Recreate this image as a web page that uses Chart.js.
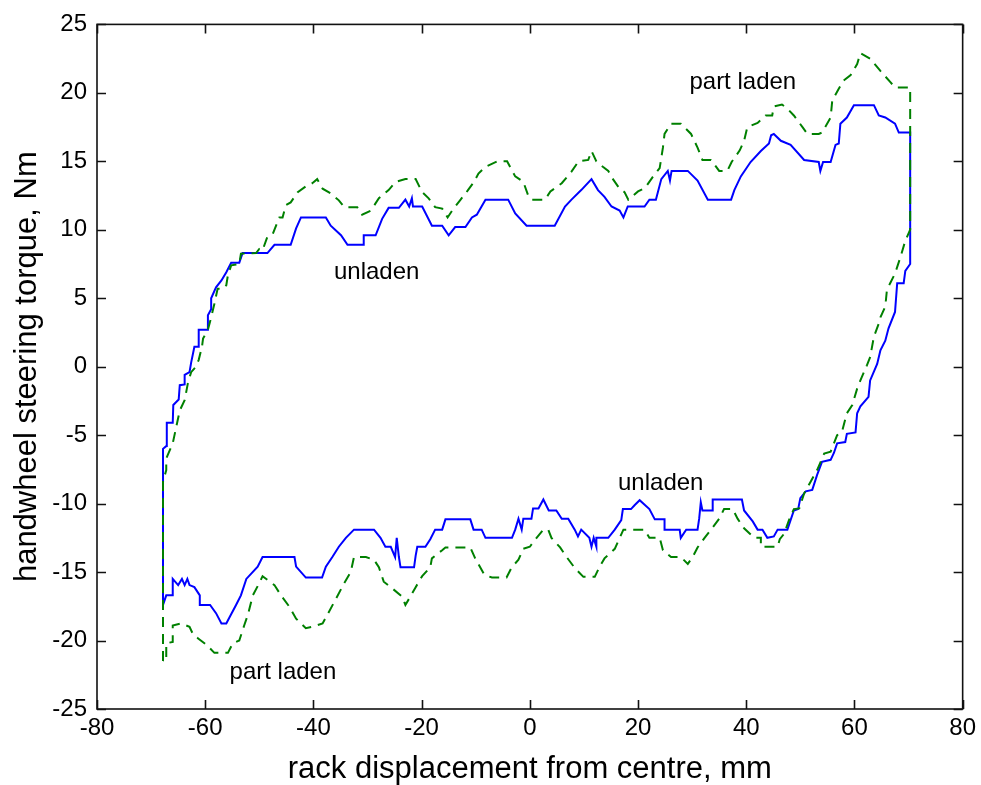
<!DOCTYPE html>
<html>
<head>
<meta charset="utf-8">
<script src="https://cdn.jsdelivr.net/npm/chart.js@4/dist/chart.umd.min.js"></script>
<style>
  html, body { margin: 0; padding: 0; background: #fff; }
  canvas { display: block; }
</style>
</head>
<body>
<canvas id="myChart" width="981" height="785"></canvas>
<script>
// rack displacement (mm) vs handwheel torque (Nm)
const unladen = [
  [-67.8,-17.4],[-67.8,-6.0],[-67.2,-5.8],[-67.1,-4.1],[-66.0,-4.1],[-65.9,-2.8],[-64.9,-2.4],[-64.7,-1.35],
  [-63.8,-1.3],[-63.8,-0.6],[-62.9,-0.4],[-62.6,0.3],[-62.0,1.45],[-61.2,1.45],[-61.2,2.7],[-59.6,2.7],
  [-59.5,3.75],[-58.9,4.2],[-58.9,5.0],[-58.0,5.8],[-57.0,6.3],[-56.1,6.9],[-55.2,7.6],[-53.7,7.6],
  [-53.1,8.3],[-48.5,8.3],[-47.2,8.9],[-44.2,8.9],[-43.2,10.1],[-42.3,10.9],[-37.7,10.9],[-36.8,10.3],
  [-34.9,9.6],[-33.7,8.9],[-30.7,8.9],[-30.7,9.6],[-28.5,9.6],[-27.3,10.8],[-26.1,11.6],[-24.2,11.6],
  [-23.0,12.2],[-22.3,11.7],[-21.8,12.3],[-21.6,11.7],[-19.9,11.7],[-18.1,10.3],[-16.2,10.3],[-15.0,9.6],
  [-13.8,10.2],[-11.9,10.2],[-10.7,10.9],[-9.8,11.1],[-8.2,12.2],[-4.0,12.2],[-2.7,11.2],[-0.6,10.3],
  [4.6,10.3],[6.5,11.7],[7.7,12.2],[9.5,12.9],[11.4,13.7],[12.6,12.9],[13.8,12.4],[15.1,11.7],
  [16.6,11.4],[17.3,10.9],[18.1,11.7],[21.2,11.7],[22.1,12.2],[23.3,12.2],[24.3,13.7],[25.5,14.3],
  [25.9,13.6],[26.2,14.3],[29.2,14.3],[31.0,13.6],[32.9,12.2],[37.2,12.2],[37.8,12.9],[39.0,13.9],
  [40.8,14.95],[42.7,15.75],[44.2,16.3],[44.6,16.9],[45.1,17.0],[46.4,16.5],[48.2,16.2],[50.7,15.1],
  [53.4,14.95],[53.7,14.3],[54.2,14.95],[55.6,14.95],[56.5,16.2],[57.1,16.3],[57.4,17.75],[58.6,18.2],
  [59.9,19.1],[63.6,19.1],[64.5,18.35],[65.7,18.2],[67.5,17.75],[68.2,17.1],[70.3,17.1],
  [70.3,7.5],[69.4,7.0],[69.1,6.1],[67.9,6.1],[67.5,4.0],[66.3,2.8],[65.7,1.9],[64.8,1.2],
  [64.2,0.2],[62.9,-1.0],[62.6,-2.2],[61.1,-2.9],[60.5,-3.4],[60.2,-4.8],[58.6,-4.9],[58.3,-5.5],
  [56.8,-5.6],[56.2,-6.3],[55.6,-6.8],[54.0,-6.95],[53.1,-7.9],[52.2,-9.0],[51.0,-9.1],[50.0,-9.6],
  [49.6,-10.4],[48.8,-10.5],[47.6,-11.9],[45.8,-11.9],[45.1,-12.4],[43.9,-12.5],[43.0,-11.9],[42.1,-11.9],
  [41.2,-11.3],[39.6,-10.5],[39.2,-9.7],[33.8,-9.7],[33.8,-10.5],[31.9,-10.5],[31.6,-9.9],[31.3,-11.1],
  [31.0,-11.9],[28.9,-11.9],[27.9,-12.5],[27.7,-11.9],[24.9,-11.9],[24.9,-11.15],[23.1,-11.15],[22.1,-10.4],
  [20.3,-9.75],[19.4,-10.1],[18.7,-10.4],[17.2,-10.4],[16.9,-11.2],[15.7,-11.9],[14.5,-12.5],[12.3,-12.5],
  [12.3,-13.15],[11.8,-12.5],[11.4,-13.15],[11.0,-12.5],[9.5,-11.9],[8.9,-12.4],[8.3,-11.9],[7.1,-11.1],
  [5.9,-11.1],[4.9,-10.5],[3.5,-10.5],[2.5,-9.7],[1.6,-10.35],[0.6,-10.35],[0.3,-11.1],[-1.2,-11.1],
  [-1.5,-11.9],[-2.1,-11.1],[-2.7,-11.9],[-3.3,-12.5],[-8.2,-12.5],[-8.9,-11.9],[-10.4,-11.9],[-11.0,-11.15],
  [-15.6,-11.15],[-16.2,-11.9],[-17.5,-11.9],[-18.4,-12.6],[-19.3,-13.15],[-20.8,-13.15],[-21.1,-13.8],[-21.4,-14.65],
  [-23.9,-14.65],[-24.2,-13.9],[-24.6,-12.5],[-24.9,-13.9],[-25.7,-13.15],[-26.7,-13.15],[-27.6,-12.5],[-28.8,-11.9],
  [-32.5,-11.9],[-34.0,-12.5],[-35.3,-13.15],[-36.5,-13.9],[-37.7,-14.6],[-38.4,-15.4],[-41.4,-15.4],[-43.2,-14.6],
  [-43.5,-13.9],[-49.4,-13.9],[-50.3,-14.6],[-52.4,-15.5],[-53.4,-16.7],[-54.3,-17.4],[-55.5,-18.3],[-56.1,-18.75],
  [-57.0,-18.75],[-58.0,-18.0],[-59.1,-17.4],[-61.0,-17.4],[-61.0,-16.7],[-62.0,-16.1],[-62.9,-15.95],[-63.3,-15.5],
  [-63.8,-15.95],[-64.3,-15.5],[-65.0,-15.95],[-66.0,-15.5],[-66.0,-16.7],[-67.2,-16.7],[-67.8,-17.4]
]

const partLaden = [
  [-67.8,-21.5],[-67.8,-8.4],[-67.2,-7.55],[-67.2,-6.7],[-66.0,-5.6],[-65.3,-4.3],[-64.7,-3.2],[-63.8,-2.45],
  [-63.2,-1.2],[-62.6,-0.4],[-61.7,0.0],[-61.2,0.5],[-60.6,1.45],[-60.4,2.05],[-59.5,2.7],[-58.9,3.6],
  [-58.3,4.6],[-57.7,5.7],[-56.7,5.7],[-56.1,5.95],[-55.8,6.7],[-55.2,7.4],[-53.7,7.5],[-53.4,8.25],
  [-50.6,8.3],[-50.0,8.6],[-49.4,8.5],[-48.5,9.5],[-47.5,9.7],[-46.3,10.9],[-45.7,10.9],[-45.1,11.8],
  [-44.2,12.0],[-42.9,12.75],[-41.1,13.25],[-40.2,13.4],[-39.3,13.7],[-38.3,13.0],[-36.8,12.65],[-35.3,12.15],
  [-34.3,11.65],[-31.9,11.65],[-31.0,11.1],[-29.4,11.4],[-27.9,12.3],[-26.1,12.9],[-24.8,13.5],[-23.0,13.7],
  [-21.1,13.7],[-19.9,12.75],[-18.7,12.3],[-17.5,11.65],[-16.2,11.55],[-15.2,10.9],[-14.2,11.5],[-12.9,12.15],
  [-11.6,12.8],[-10.4,13.45],[-9.5,14.1],[-8.2,14.6],[-6.0,15.0],[-4.2,15.0],[-2.7,13.9],[-1.2,13.5],
  [-0.3,12.5],[0.3,12.2],[2.8,12.2],[3.8,12.8],[5.9,13.4],[7.7,14.25],[9.0,15.0],[10.8,15.1],
  [11.4,15.75],[12.3,15.0],[13.5,14.6],[14.5,14.3],[15.1,13.85],[16.6,13.0],[17.5,12.75],[18.2,12.2],
  [20.0,12.8],[21.3,13.05],[22.7,13.85],[24.0,14.5],[24.6,16.0],[24.9,17.0],[26.1,17.75],[27.9,17.75],
  [29.8,17.0],[30.4,16.5],[31.0,16.0],[31.9,15.1],[33.5,15.1],[35.0,14.3],[36.5,14.3],[37.3,14.95],
  [38.8,15.8],[39.6,16.5],[40.2,17.5],[42.1,17.8],[43.6,18.35],[44.8,18.35],[45.1,19.0],[46.6,19.15],
  [47.6,18.85],[48.8,18.35],[50.4,17.5],[51.3,17.0],[53.4,17.0],[54.0,17.1],[55.6,18.2],[55.9,19.45],
  [57.1,20.3],[58.0,20.9],[59.3,21.3],[60.5,22.1],[61.1,22.9],[62.9,22.5],[64.8,21.6],[66.6,20.8],
  [67.5,20.4],[70.3,20.4],
  [70.3,10.0],[69.4,9.2],[68.5,8.0],[67.5,6.8],[66.6,6.1],[66.0,5.6],[65.7,4.4],[64.8,3.6],
  [64.5,3.15],[63.6,2.2],[62.9,0.7],[62.3,0.1],[61.1,-1.0],[60.5,-1.6],[59.6,-2.8],[58.6,-3.4],
  [57.7,-4.75],[56.8,-5.0],[55.6,-6.2],[54.4,-6.35],[53.1,-7.55],[51.9,-8.4],[50.7,-9.25],[49.8,-10.35],
  [48.8,-10.4],[47.9,-11.2],[47.0,-12.2],[46.2,-12.6],[45.8,-13.15],[42.7,-13.15],[42.7,-12.5],[41.5,-12.5],
  [39.6,-11.8],[38.4,-11.1],[37.5,-10.4],[35.9,-10.4],[35.0,-11.1],[33.5,-11.9],[32.3,-12.5],[31.0,-13.2],
  [30.1,-13.9],[29.2,-14.4],[27.9,-13.9],[26.1,-13.9],[24.6,-13.4],[24.0,-12.5],[22.1,-12.5],[21.2,-11.9],
  [17.3,-11.9],[15.7,-13.3],[13.8,-14.0],[12.9,-14.6],[12.0,-15.35],[9.9,-15.35],[8.3,-14.7],[6.8,-13.9],
  [5.6,-13.2],[4.0,-12.5],[3.4,-11.9],[2.5,-11.9],[1.25,-12.5],[0.0,-13.15],[-1.2,-13.3],[-2.1,-14.1],
  [-3.35,-14.65],[-4.3,-15.4],[-7.0,-15.4],[-8.4,-15.2],[-10.1,-14.0],[-11.0,-13.2],[-15.6,-13.2],[-16.2,-13.4],
  [-18.1,-14.0],[-18.4,-14.65],[-19.9,-15.3],[-21.1,-16.1],[-22.1,-16.8],[-23.0,-17.4],[-23.6,-16.8],[-25.4,-16.2],
  [-27.0,-15.7],[-27.9,-14.65],[-28.8,-14.1],[-30.3,-13.9],[-32.5,-13.9],[-33.1,-15.0],[-34.3,-15.8],[-35.9,-17.0],
  [-37.4,-18.1],[-38.3,-18.75],[-40.2,-19.0],[-41.4,-19.1],[-43.2,-18.4],[-44.5,-17.5],[-46.0,-16.7],[-47.2,-15.95],
  [-49.4,-15.3],[-50.0,-15.8],[-51.2,-16.7],[-52.1,-18.1],[-52.8,-18.9],[-53.7,-20.0],[-54.9,-20.2],[-55.8,-20.9],
  [-58.3,-20.9],[-59.8,-20.3],[-61.3,-19.85],[-62.3,-19.5],[-62.9,-19.0],[-64.4,-18.75],[-66.0,-18.9],[-66.0,-20.1],
  [-67.2,-20.2],[-67.2,-21.5],[-67.8,-21.5]
]

// text labels placed in data units (left edge, baseline)
const labelText = ['part laden', 'unladen', 'unladen', 'part laden']
const labelX = [29.5, -36.2, 16.3, -55.5]
const labelY = [20.3, 6.4, -9.0, -22.8]

const xTicks = [-80, -60, -40, -20, 0, 20, 40, 60, 80]
const yTicks = [-25, -20, -15, -10, -5, 0, 5, 10, 15, 20, 25]

const FONT = '"Liberation Sans", Arial, Helvetica, sans-serif'
Chart.defaults.font.family = FONT
Chart.defaults.color = '#000'

const toPoints = arr => arr.map(p => ({ x: p[0], y: p[1] }))

// matlab style box with inward ticks + the curve labels
const boxPlugin = {
    id: 'box',
    afterDatasetsDraw(chart) {
        const ctx = chart.ctx
        const { left, right, top, bottom } = chart.chartArea
        const xs = chart.scales.x
        const ys = chart.scales.y
        const tl = 9

        ctx.save()
        ctx.font = `24px ${FONT}`
        ctx.fillStyle = '#000'
        ctx.textAlign = 'left'
        ctx.textBaseline = 'alphabetic'
        labelText.forEach((t, i) => {
            ctx.fillText(t, xs.getPixelForValue(labelX[i]), ys.getPixelForValue(labelY[i]))
        })

        ctx.strokeStyle = '#111'
        ctx.lineWidth = 1.6
        ctx.strokeRect(left, top, right - left, bottom - top)
        ctx.beginPath()
        xTicks.forEach(v => {
            const px = Math.round(xs.getPixelForValue(v)) + 0.5
            ctx.moveTo(px, bottom); ctx.lineTo(px, bottom - tl)
            ctx.moveTo(px, top); ctx.lineTo(px, top + tl)
        })
        yTicks.forEach(v => {
            const py = Math.round(ys.getPixelForValue(v)) + 0.5
            ctx.moveTo(left, py); ctx.lineTo(left + tl, py)
            ctx.moveTo(right, py); ctx.lineTo(right - tl, py)
        })
        ctx.stroke()
        ctx.restore()
    }
}

const config = {
    type: 'scatter',
    data: {
        datasets: [{
            label: 'part laden',
            data: toPoints(partLaden),
            showLine: true,
            borderColor: '#008000',
            borderWidth: 2,
            borderDash: [10, 7],
            pointRadius: 0
        }, {
            label: 'unladen',
            data: toPoints(unladen),
            showLine: true,
            borderColor: '#0000ff',
            borderWidth: 2,
            pointRadius: 0
        }]
    },
    options: {
        responsive: false,
        animation: false,
        devicePixelRatio: 1,
        layout: {
            padding: { top: 24, right: 15, left: 0, bottom: 0 }
        },
        plugins: {
            legend: { display: false },
            tooltip: { enabled: false }
        },
        scales: {
            x: {
                type: 'linear',
                min: -80,
                max: 80,
                grid: { display: false, drawTicks: false },
                border: { display: false },
                ticks: {
                    stepSize: 20,
                    padding: 5,
                    maxRotation: 0,
                    font: { size: 24 }
                },
                title: {
                    display: true,
                    text: 'rack displacement from centre, mm',
                    font: { size: 31, lineHeight: 1 },
                    padding: { top: 0, bottom: 0 }
                },
                afterFit: s => { s.height = 76 }
            },
            y: {
                type: 'linear',
                min: -25,
                max: 25,
                grid: { display: false, drawTicks: false },
                border: { display: false },
                ticks: {
                    stepSize: 5,
                    padding: 10,
                    font: { size: 24 }
                },
                title: {
                    display: true,
                    text: 'handwheel steering torque, Nm',
                    font: { size: 31, lineHeight: 1 },
                    padding: { top: 12, bottom: 0 }
                },
                afterFit: s => { s.width = 97 }
            }
        }
    },
    plugins: [boxPlugin]
}

const myChart = new Chart(document.getElementById('myChart'), config)
</script>
</body>
</html>
